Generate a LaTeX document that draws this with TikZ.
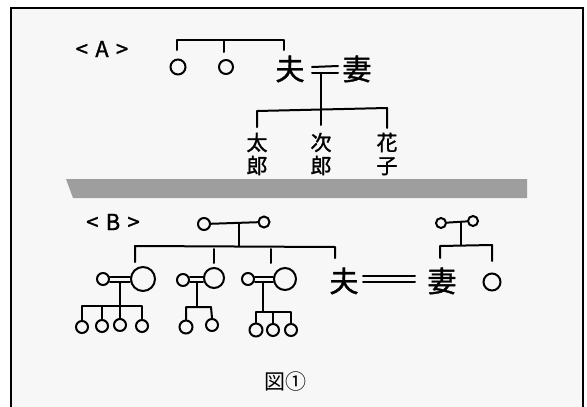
\documentclass[tikz,border=0pt]{standalone}
\usepackage{fontspec}
\newfontfamily\jp{Noto Sans CJK JP}
\newfontfamily\jpm{Noto Sans CJK JP}[FakeBold=1.3]
\begin{document}
\begin{tikzpicture}[x=1pt,y=-1pt,
  ln/.style={line width=2pt, line cap=round, line join=round},
  pc/.style={circle, draw, line width=2pt, inner sep=0pt, minimum size=#1},
  pc/.default=12pt,
  kj/.style={font=\jpm\fontsize{29}{30}\selectfont, inner sep=0pt},
  kc/.style={font=\jpm\fontsize{21}{22}\selectfont, inner sep=0pt, align=center},
  lab/.style={font=\jpm\fontsize{22}{24}\selectfont, inner sep=0pt}]
\useasboundingbox (0,0) rectangle (587,407);
\fill[white] (0,0) rectangle (587,407);
\fill[black!3] (11,8) rectangle (583,410);
\draw[line width=2.5pt] (11,412) -- (11,8) -- (583,8) -- (583,412);
% band
\fill[black!38] (66,179) -- (527,179) -- (527,198) -- (73,198) -- cycle;

% ---------- A ----------
\node[lab] (labA) at (102,49) {<\,\,A\,\,>};
\node[pc=15pt] (a1) at (178,67) {};
\node[pc=14pt] (a2) at (226,67) {};
\node[kj] (fuA) at (290,69) {夫};
\node[kj] (tsA) at (357,69) {妻};
\coordinate (a1t) at (177,50);
\coordinate (a2t) at (224,52);
\coordinate (fuAt) at (284,50);
\coordinate (bA1) at (177,40);
\coordinate (bA2) at (224,40);
\coordinate (bA3) at (284,40);
\draw[ln] (a1t) -- (bA1) -- (bA3) -- (fuAt);
\draw[ln] (bA2) -- (a2t);
\coordinate (eA1) at (312,67); \coordinate (eA2) at (338,66);
\coordinate (eA3) at (312,73); \coordinate (eA4) at (338,73);
\draw[ln] (eA1) -- (eA2);
\draw[ln] (eA3) -- (eA4);
\coordinate (mA) at (321,74);
\coordinate (cA2) at (321,110);
\draw[ln] (mA) -- (cA2);
\node[kc] (taro) at (257,154) {太\\[1pt]郎};
\node[kc] (jiro) at (321,154) {次\\[1pt]郎};
\node[kc] (hana) at (387,154) {花\\[1pt]子};
\coordinate (cA1) at (257,111);
\coordinate (cA3) at (387,108);
\coordinate (taroT) at (257,127);
\coordinate (jiroT) at (321,125);
\coordinate (hanaT) at (387,128);
\draw[ln] (taroT) -- (cA1) -- (cA3) -- (hanaT);
\draw[ln] (cA2) -- (jiroT);

% ---------- B ----------
\node[lab] (labB) at (113,222) {<\,\,B\,\,>};
\node[pc=12pt] (g1) at (204,224) {};
\node[pc=11pt] (g2) at (264,222) {};
\draw[ln] (g1) -- (g2);
\coordinate (gm) at (239,223);
\coordinate (gb) at (239,246);
\draw[ln] (gm) -- (gb);
\coordinate (bL) at (135,246);
\coordinate (bR) at (335,247);
\coordinate (bLd) at (135,262);
\coordinate (bRd) at (335,258);
\draw[ln] (bLd) -- (bL) -- (bR) -- (bRd);
\coordinate (d2t) at (214,249); \coordinate (d2b) at (214,263);
\coordinate (d3t) at (271,249); \coordinate (d3b) at (271,263);
\draw[ln] (d2t) -- (d2b);
\draw[ln] (d3t) -- (d3b);

% family 1
\node[pc=12pt] (f1s) at (103,279) {};
\node[pc=24pt] (f1b) at (143,279) {};
\draw[ln] (f1s.east |- 0,276.5) -- (f1b.west |- 0,276.5);
\draw[ln] (f1s.east |- 0,281.5) -- (f1b.west |- 0,281.5);
\coordinate (f1m) at (120,282);
\coordinate (f1h) at (120,306);
\draw[ln] (f1m) -- (f1h);
\node[pc=12pt] (k11) at (82,327) {};
\node[pc=12pt] (k12) at (102,326) {};
\node[pc=12pt] (k13) at (120,325) {};
\node[pc=12pt] (k14) at (142,326) {};
\draw[ln] (k11.north) -- (82,306) -- (142,306) -- (k14.north);
\draw[ln] (k12.north) -- (102,306);
\draw[ln] (k13.north) -- (f1h);

% family 2
\node[pc=12pt] (f2s) at (183,280) {};
\node[pc=20pt] (f2b) at (214,278) {};
\draw[ln] (f2s.east |- 0,277) -- (f2b.west |- 0,277);
\draw[ln] (f2s.east |- 0,282) -- (f2b.west |- 0,282);
\coordinate (f2m) at (197,282);
\coordinate (f2h) at (197,307);
\draw[ln] (f2m) -- (f2h);
\node[pc=13pt] (k21) at (186,327) {};
\node[pc=12pt] (k22) at (212,325) {};
\draw[ln] (k21.north) -- (186,307) -- (211,307) -- (k22.north);

% family 3
\node[pc=12pt] (f3s) at (248,279) {};
\node[pc=22pt] (f3b) at (285,279) {};
\draw[ln] (f3s.east |- 0,276.5) -- (f3b.west |- 0,276.5);
\draw[ln] (f3s.east |- 0,281.5) -- (f3b.west |- 0,281.5);
\coordinate (f3m) at (263,282);
\coordinate (f3h) at (263,312);
\draw[ln] (f3m) -- (f3h);
\node[pc=13pt] (k31) at (256,330) {};
\node[pc=12pt] (k32) at (273,330) {};
\node[pc=12pt] (k33) at (291,330) {};
\draw[ln] (k31.north) -- (256,312) -- (291,312) -- (k33.north);
\draw[ln] (k32.north) -- (273,312);

% right couple
\node[kj] (fuB) at (344,281) {夫};
\node[kj] (tsB) at (442,281) {妻};
\node[pc=17pt] (sib) at (492,282) {};
\coordinate (eB1) at (363,276); \coordinate (eB2) at (415,276);
\coordinate (eB3) at (363,282); \coordinate (eB4) at (415,282);
\draw[ln] (eB1) -- (eB2);
\draw[ln] (eB3) -- (eB4);
\node[pc=10pt] (h1) at (441,223) {};
\node[pc=10pt] (h2) at (473,221) {};
\draw[ln] (h1) -- (h2);
\coordinate (hm) at (461,222);
\coordinate (hb) at (461,245);
\draw[ln] (hm) -- (hb);
\coordinate (hL) at (440,246); \coordinate (hR) at (492,245);
\coordinate (hLd) at (440,258); \coordinate (hRd) at (492,261);
\draw[ln] (hLd) -- (hL) -- (hR) -- (hRd);

% caption
\node[font=\jp\fontsize{21}{23}\selectfont, inner sep=0pt] (cap) at (285,382) {図①};
\end{tikzpicture}
\end{document}
